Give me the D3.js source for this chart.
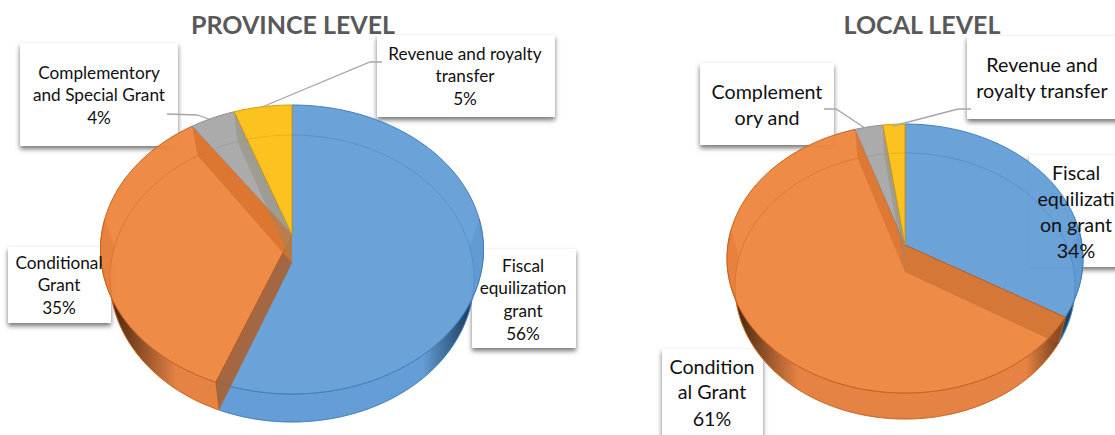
<!DOCTYPE html>
<html><head><meta charset="utf-8">
<script src="https://cdnjs.cloudflare.com/ajax/libs/d3/7.8.5/d3.min.js"></script>
<style>html,body{margin:0;padding:0;background:#fff;overflow:hidden}svg{display:block}text{font-family:Lato,"Open Sans",sans-serif}</style>
</head><body><svg id="c" width="1115" height="435"></svg>
<script>
const categories = ["Fiscal equilization grant","Conditional Grant","Complementory and Special Grant","Revenue and royalty transfer"];
const provinceValues = [55.9,34.5,4.2,5.4];
const localValues = [33.6,61.4,2.8,2.2];
const titles = ["PROVINCE LEVEL","LOCAL LEVEL"];
const faceColors = ["#659ed6","#ec8640","#a8a8a8","#fcbf17"];
const edgeColors = ["#3f7fbd","#c9611c","#8f8f8f","#d79c0a"];
const wallDark = ["#1c3d5e","#4f2a10","#555","#8a6a10"];
const wallBase = ["#659ed6","#e58344","#999","#e0aa14"];
const cutColors = [null,"#b25a1e","#d8702c","#8f8a70"];

const provinceLabels = [
 {box:[472,249,104,99],x:523,lines:[["Fiscal",272],["equilization",294],["grant",317],["56%",340]]},
 {box:[8,247,103,76],x:59,lines:[["Conditional",269],["Grant",291],["35%",314]]},
 {box:[20,43,158,103],x:99,lines:[["Complementory",79],["and Special Grant",101],["4%",124]]},
 {box:[377,35,178,82],x:465,lines:[["Revenue and royalty",60],["transfer",82],["5%",105]]}
];
const localLabels = [
 {box:[1029,155,90,112],x:1076,lines:[["Fiscal",180],["equilizati",206],["on grant",232],["34%",258]]},
 {box:[662,349,101,90],x:712,lines:[["Condition",374],["al Grant",399],["61%",426]]},
 {box:[700,63,134,82],x:767,lines:[["Complement",99],["ory and",125]]},
 {box:[967,36,152,83],x:1042,lines:[["Revenue and",72],["royalty transfer",98]]}
];
const provinceLeaders = [[[167,114],[197,115],[209,119]],[[382,62],[370,62],[262,107]]];
const localLeaders = [[[824,109],[836,109],[865,128]],[[971,109],[958,109],[893,126]]];

const charts = [
 {title:titles[0],titleX:293,values:provinceValues,labels:provinceLabels,leaders:provinceLeaders,fs:17.2,
  cx:292,py:235,top:105,bot:394,rx:191.5,dy:28,bTop:135,bBot:422,brx:182,cutOp:[0,.8,.8,.4]},
 {title:titles[1],titleX:922,values:localValues,labels:localLabels,leaders:localLeaders,fs:19.7,
  cx:905,py:245,top:124,bot:393,rx:178,dy:27,bTop:153,bBot:419,brx:170,cutOp:[0,.4,.7,.4]}
];

const svg = d3.select("#c");
const defs = svg.append("defs");
const shadow = defs.append("filter").attr("id","sh").attr("x","-10%").attr("y","-10%").attr("width","120%").attr("height","125%");
shadow.append("feDropShadow").attr("dx",0).attr("dy",3).attr("stdDeviation",2.5).attr("flood-color","#000").attr("flood-opacity",.55);

function projector(cx,py,top,bot,rx){
  const up=py-top, dn=bot-py, k=-(dn-up)/(dn+up), a=up*(1-k);
  const b=rx*Math.sqrt(1-k*k);
  return t=>{const u=Math.sin(t),v=-Math.cos(t),w=1+k*v;return [cx+b*u/w,py+a*v/w];};
}
const line=d3.line();
function samples(a0,a1){const n=Math.max(2,Math.ceil((a1-a0)/0.02));return d3.range(n+1).map(i=>a0+(a1-a0)*i/n);}

charts.forEach((c,ci)=>{
  const g=svg.append("g");
  c.labels.forEach(l=>{
    g.append("rect").attr("x",l.box[0]).attr("y",l.box[1]).attr("width",l.box[2]).attr("height",l.box[3])
     .attr("fill","#fff").attr("filter","url(#sh)");
  });
  const arcs=d3.pie().sort(null)(c.values);
  const T=projector(c.cx,c.py,c.top,c.bot,c.rx);
  const B=projector(c.cx,c.py+c.dy,c.bTop,c.bBot,c.brx);
  // outer walls: front of the rim only
  arcs.forEach((a,i)=>{
    const id=`w${ci}${i}`;
    const gr=defs.append("linearGradient").attr("id",id).attr("gradientUnits","userSpaceOnUse")
      .attr("x1",c.cx-c.rx).attr("x2",c.cx+c.rx).attr("y1",0).attr("y2",0);
    [[0,wallDark[i]],[.035,wallDark[i]],[.2,wallBase[i]],[.84,wallBase[i]],[.965,wallDark[i]],[1,wallDark[i]]]
      .forEach(s=>gr.append("stop").attr("offset",s[0]).attr("stop-color",s[1]));
    const ss=samples(a.startAngle,a.endAngle).filter(t=>-Math.cos(t)>-0.12);
    if(ss.length<2) return;
    const pts=ss.map(T).concat(ss.slice().reverse().map(B));
    g.append("path").attr("d",line(pts)+"Z").attr("fill",`url(#${id})`).attr("stroke",edgeColors[i]).attr("stroke-width",.8);
  });
  // top faces
  arcs.forEach((a,i)=>{
    const pts=[[c.cx,c.py]].concat(samples(a.startAngle,a.endAngle).map(T));
    g.append("path").attr("d",line(pts)+"Z").attr("fill",faceColors[i]).attr("fill-opacity",.96)
     .attr("stroke",edgeColors[i]).attr("stroke-width",1);
  });
  // lower face outline, seen through the top
  arcs.forEach((a,i)=>{
    g.append("path").attr("d",line(samples(a.startAngle,a.endAngle).map(B))).attr("fill","none")
     .attr("stroke",edgeColors[i]).attr("stroke-opacity",.45).attr("stroke-width",1);
  });
  // cut faces at the start of each later slice
  arcs.forEach((a,i)=>{
    if(i===0) return;
    const th=a.startAngle;
    const pts=[T(th),[c.cx,c.py],[c.cx,c.py+c.dy],B(th)];
    g.append("path").attr("d",line(pts)+"Z").attr("fill",cutColors[i]).attr("fill-opacity",c.cutOp[i]);
  });
  // leaders
  c.leaders.forEach(p=>g.append("path").attr("d",line(p)).attr("fill","none").attr("stroke","#a6a6a6").attr("stroke-width",1.3));
  // title
  g.append("text").attr("x",c.titleX).attr("y",34).attr("text-anchor","middle").attr("font-size",25).attr("font-weight",700).attr("fill","#595959").text(c.title);
  // label text
  c.labels.forEach(l=>l.lines.forEach(t=>{
    g.append("text").attr("x",l.x).attr("y",t[1]).attr("text-anchor","middle").attr("font-size",c.fs).attr("fill","#111").text(t[0]);
  }));
});
</script></body></html>
